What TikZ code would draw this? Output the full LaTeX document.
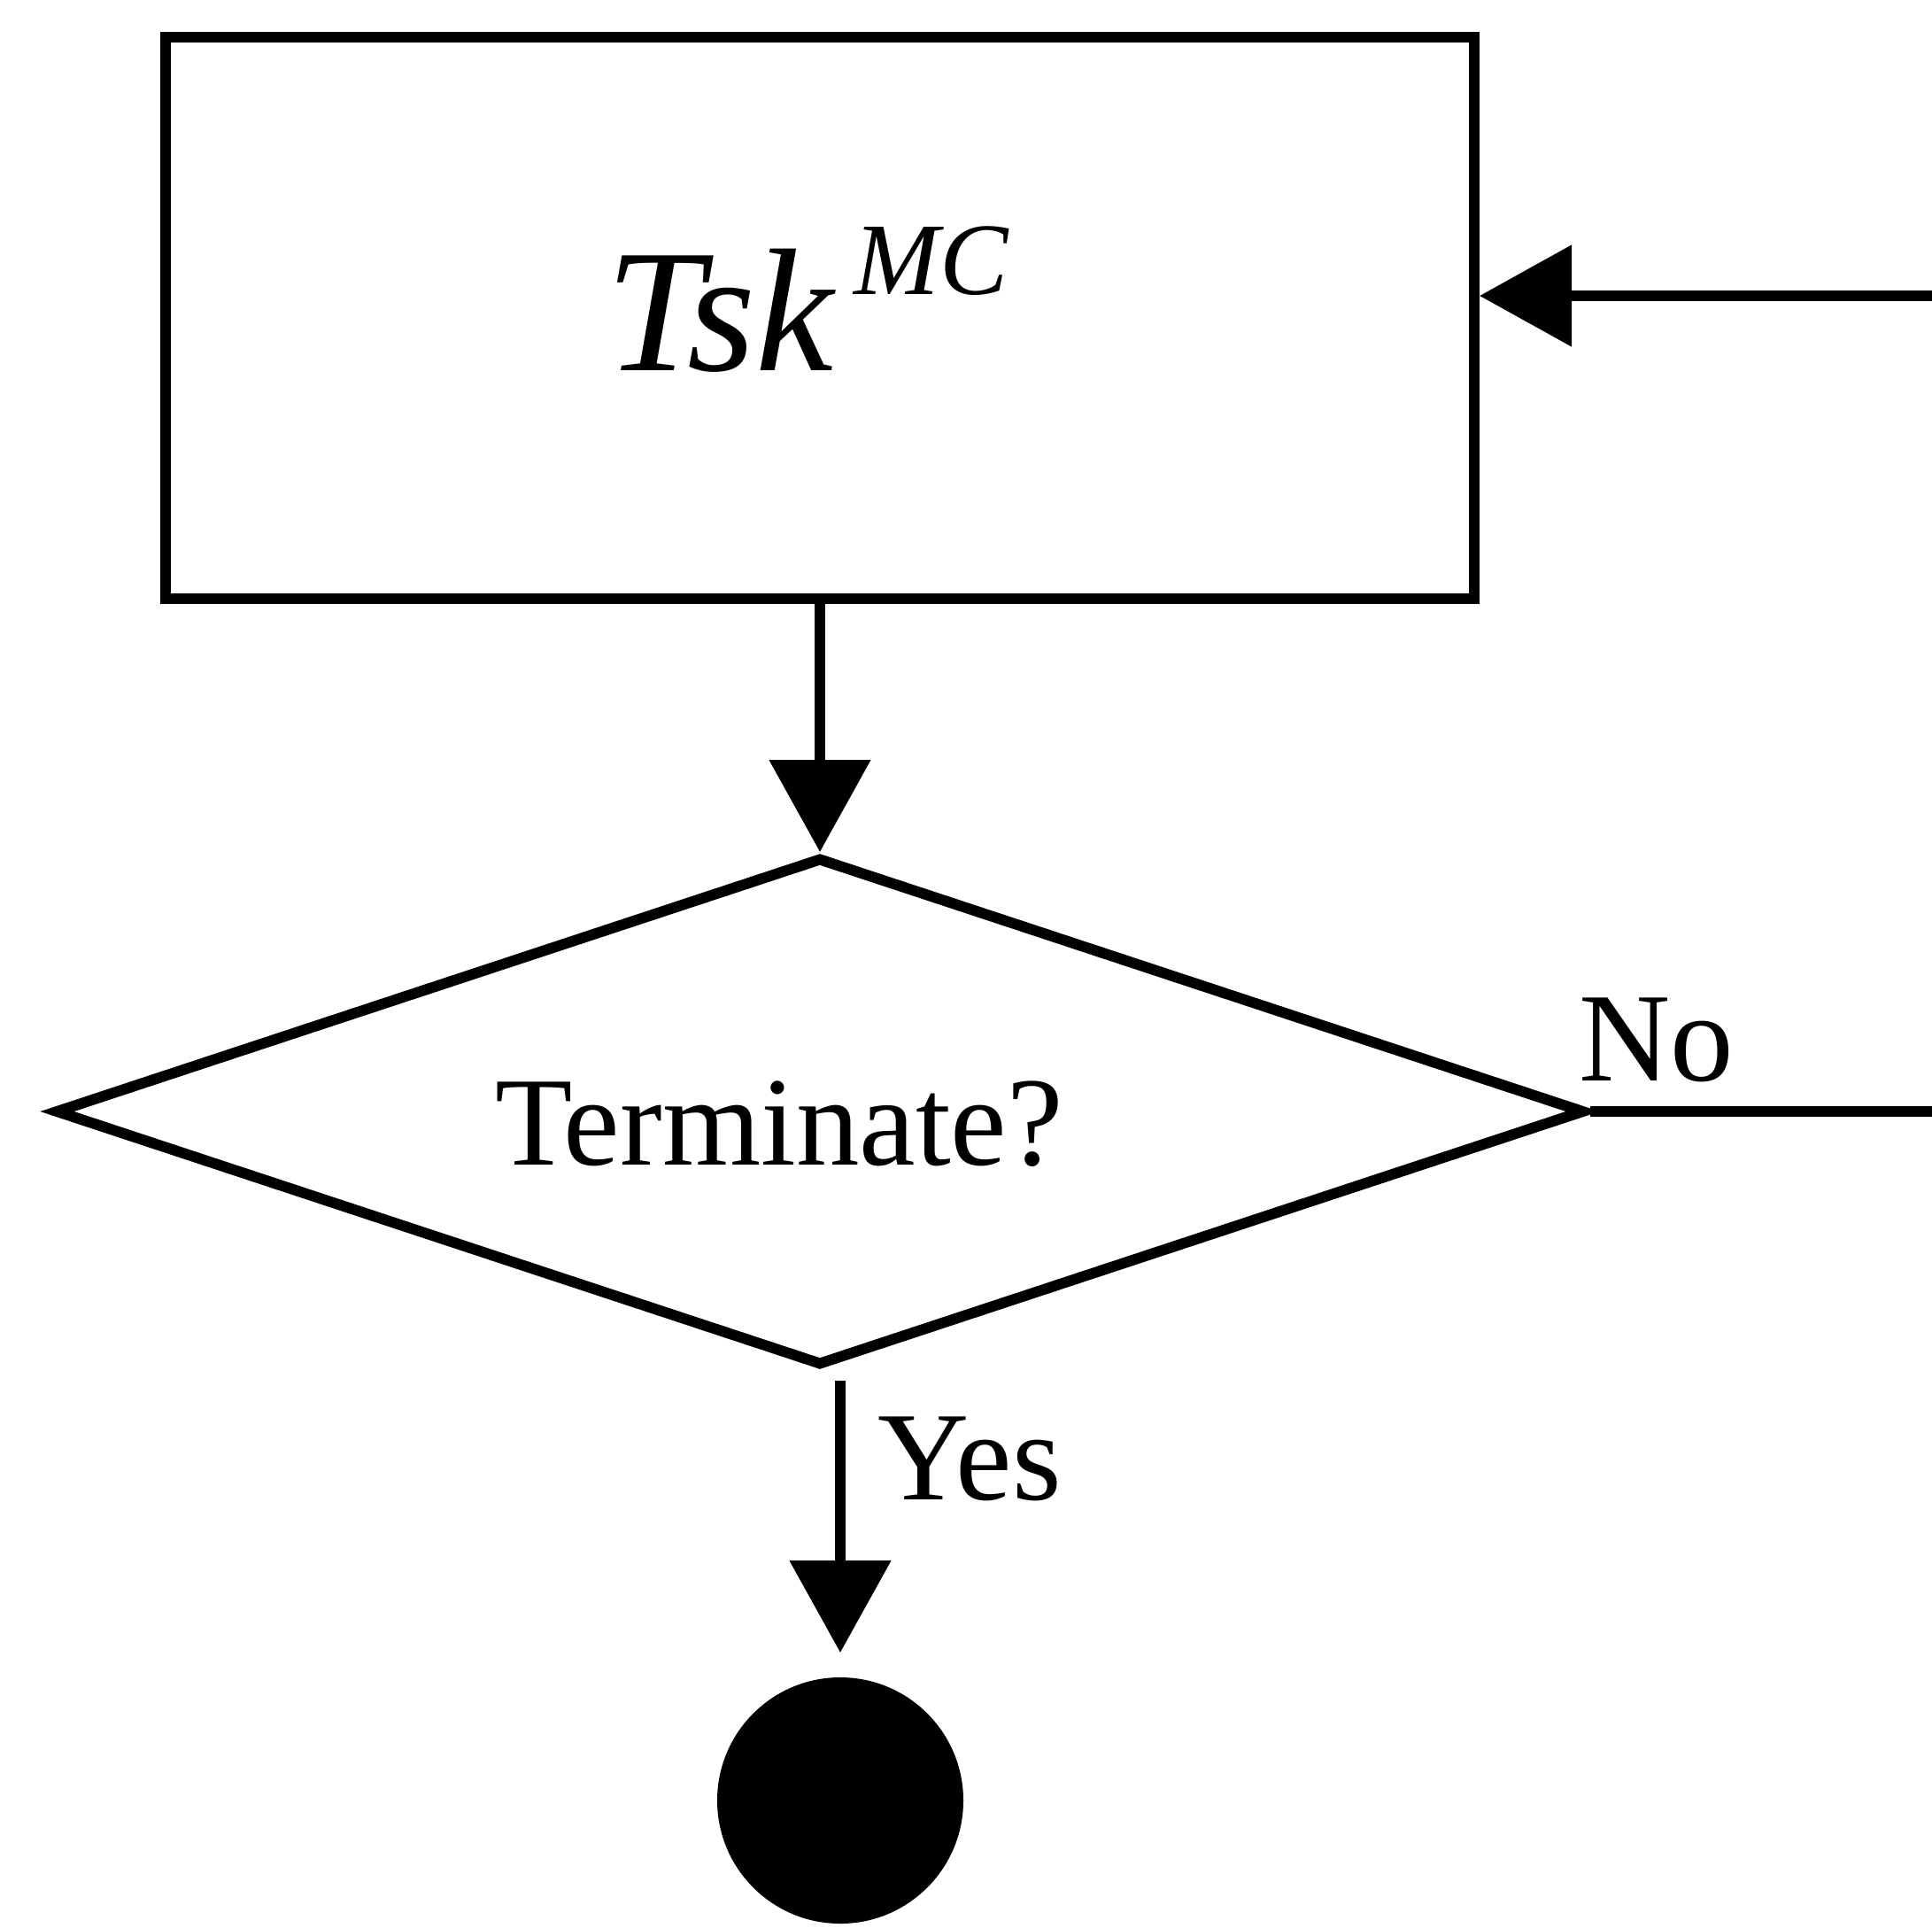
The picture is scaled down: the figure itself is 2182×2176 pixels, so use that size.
\documentclass[tikz,border=0pt]{standalone}
\usepackage{fontspec}
\setmainfont{Liberation Serif}
\usetikzlibrary{arrows.meta,shapes.geometric}
\begin{document}
\begin{tikzpicture}[x=0.5pt,y=-0.5pt,
  line width=6pt,
  arr/.style={-{Triangle[length=52pt,width=56pt]}},
  lbl/.style={inner sep=0pt, font=\fontsize{71.5}{80}\selectfont}]
\useasboundingbox (0,0) rectangle (2182,2176);

% task box and its label
\node (task) [draw, rectangle, minimum width=739pt, minimum height=317pt,
  inner sep=0pt] at (926,359) {};
\node (tsk) [anchor=base west, inner sep=0pt] at (678,418)
  {\fontsize{99}{100}\selectfont\itshape Tsk\hspace{12pt}\raisebox{43pt}{\fontsize{58}{60}\selectfont MC}};

% decision
\node (q) [draw, diamond, minimum width=864pt, minimum height=287pt,
  inner sep=0pt] at (926,1255) {};
\node (qlabel) [lbl, anchor=base] at (880,1315) {Terminate?};

% final state
\node (stop) [circle, fill=black, minimum size=139pt, inner sep=0pt] at (949,2033) {};

% connectors
\coordinate (loopin) at (2200,334);
\coordinate (noout) at (2200,1255);
\coordinate (yesstart) at (949,1559);

\draw[arr] (loopin) -- (loopin -| task.east);
\draw[arr] (task.south) -- (q.north);
\draw (q.east) -- (noout);
\draw[arr] (yesstart) -- ([yshift=11pt]stop.north);

\node (no) [lbl, anchor=base west] at (1777,1220) {No};
\node (yes) [lbl, anchor=base west] at (985,1693) {Yes};
\end{tikzpicture}
\end{document}
